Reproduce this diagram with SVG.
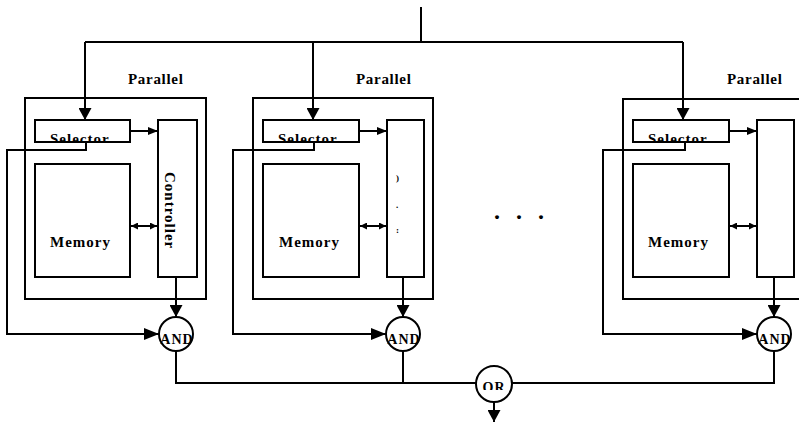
<svg xmlns="http://www.w3.org/2000/svg" width="799" height="424" viewBox="0 0 799 424">
<style>
.box{fill:none;stroke:#000;stroke-width:2}
.wbox{fill:#fff;stroke:#000;stroke-width:2}
.ln{fill:none;stroke:#000;stroke-width:2}
.t{font-family:"Liberation Serif","Times New Roman",serif;font-weight:bold;fill:#000}
.par{font-size:15px;letter-spacing:0.7px}
.mem{font-size:15px;letter-spacing:1px}
.sel{font-size:15px;letter-spacing:1px}
.gate{font-size:14px;letter-spacing:1px}
</style>
<defs>
<marker id="big" markerUnits="userSpaceOnUse" markerWidth="13" markerHeight="13" refX="12" refY="6.5" orient="auto"><path d="M0,0 L12,6.5 L0,13 z" fill="#000"/></marker>
<marker id="med" markerUnits="userSpaceOnUse" markerWidth="15" markerHeight="12" refX="15" refY="6" orient="auto"><path d="M0,0 L15,6 L0,12 z" fill="#000"/></marker>
<marker id="sm" markerUnits="userSpaceOnUse" markerWidth="10" markerHeight="8" refX="10" refY="4" orient="auto"><path d="M0,0 L10,4 L0,8 z" fill="#000"/></marker>
<marker id="tiny" markerUnits="userSpaceOnUse" markerWidth="7" markerHeight="7" refX="7" refY="3.5" orient="auto-start-reverse"><path d="M0,0 L7,3.5 L0,7 z" fill="#000"/></marker>
<clipPath id="c1"><rect x="35" y="120" width="95" height="22"/></clipPath>
<clipPath id="c2"><rect x="263" y="120" width="96" height="22"/></clipPath>
<clipPath id="c3"><rect x="633" y="120" width="96" height="22"/></clipPath>
<clipPath id="cor"><rect x="470" y="360" width="50" height="30"/></clipPath>
</defs>

<g id="connectors">
<line class="ln" x1="421" y1="7" x2="421" y2="42"/>
<line class="ln" x1="85" y1="42" x2="683" y2="42"/>
<line class="ln" x1="85" y1="42" x2="85" y2="120" marker-end="url(#big)"/>
<line class="ln" x1="313" y1="42" x2="313" y2="120" marker-end="url(#big)"/>
<line class="ln" x1="683" y1="42" x2="683" y2="120" marker-end="url(#big)"/>
<line class="ln" x1="130" y1="131" x2="158" y2="131" marker-end="url(#sm)"/>
<line class="ln" x1="359" y1="131" x2="387" y2="131" marker-end="url(#sm)"/>
<line class="ln" x1="729" y1="131" x2="757" y2="131" marker-end="url(#sm)"/>
<line class="ln" x1="131" y1="226" x2="157" y2="226" marker-start="url(#tiny)" marker-end="url(#tiny)"/>
<line class="ln" x1="360" y1="226" x2="386" y2="226" marker-start="url(#tiny)" marker-end="url(#tiny)"/>
<line class="ln" x1="730" y1="226" x2="756" y2="226" marker-start="url(#tiny)" marker-end="url(#tiny)"/>
<polyline class="ln" points="86,142 86,150 7,150 7,334 159,334" marker-end="url(#med)"/>
<polyline class="ln" points="314,142 314,150 233,150 233,334 386,334" marker-end="url(#med)"/>
<polyline class="ln" points="685,142 685,150 603,150 603,334 757,334" marker-end="url(#med)"/>
<line class="ln" x1="176" y1="277" x2="176" y2="317" marker-end="url(#big)"/>
<line class="ln" x1="403" y1="277" x2="403" y2="317" marker-end="url(#big)"/>
<line class="ln" x1="774" y1="277" x2="774" y2="317" marker-end="url(#big)"/>
<polyline class="ln" points="176,351 176,383 774,383 774,351"/>
<line class="ln" x1="403" y1="351" x2="403" y2="383"/>
<line class="ln" x1="494" y1="402" x2="494" y2="422" marker-end="url(#big)"/>
</g>

<g id="module1">
<rect class="box" x="25" y="98" width="181" height="201"/>
<text class="t par" x="128" y="84">Parallel</text>
</g>
<g id="selector1">
<rect class="box" x="35" y="120" width="95" height="22"/>
<text class="t sel" x="50" y="144" clip-path="url(#c1)">Selector</text>
</g>
<g id="memory1">
<rect class="box" x="35" y="164" width="95" height="113"/>
<text class="t mem" x="50" y="247">Memory</text>
</g>
<g id="controller1">
<rect class="box" x="158" y="120" width="39" height="157"/>
<text class="t sel" transform="translate(165,172) rotate(90)">Controller</text>
</g>
<g id="and1">
<circle class="wbox" cx="176" cy="334" r="17"/>
<text class="t gate" x="177" y="344" text-anchor="middle">AND</text>
</g>

<g id="module2">
<rect class="box" x="253" y="98" width="180" height="201"/>
<text class="t par" x="356" y="84">Parallel</text>
</g>
<g id="selector2">
<rect class="box" x="263" y="120" width="96" height="22"/>
<text class="t sel" x="278" y="144" clip-path="url(#c2)">Selector</text>
</g>
<g id="memory2">
<rect class="box" x="263" y="164" width="96" height="113"/>
<text class="t mem" x="279" y="247">Memory</text>
</g>
<g id="controller2">
<rect class="box" x="387" y="120" width="37" height="157"/>
<text class="t" font-size="9" x="396" y="181">)</text>
<text class="t" font-size="9" x="396" y="208">.</text>
<text class="t" font-size="9" x="396" y="233">:</text>
</g>
<g id="and2">
<circle class="wbox" cx="403" cy="334" r="17"/>
<text class="t gate" x="404" y="344" text-anchor="middle">AND</text>
</g>

<g id="ellipsis">
<text class="t" font-size="24" x="494 516 538" y="219">...</text>
</g>

<g id="module3">
<rect class="box" x="623" y="99" width="200" height="200"/>
<text class="t par" x="727" y="84">Parallel</text>
</g>
<g id="selector3">
<rect class="box" x="633" y="120" width="96" height="22"/>
<text class="t sel" x="648" y="144" clip-path="url(#c3)">Selector</text>
</g>
<g id="memory3">
<rect class="box" x="633" y="164" width="96" height="113"/>
<text class="t mem" x="648" y="247">Memory</text>
</g>
<g id="controller3">
<rect class="box" x="757" y="120" width="37" height="157"/>
</g>
<g id="and3">
<circle class="wbox" cx="774" cy="334" r="17"/>
<text class="t gate" x="775" y="344" text-anchor="middle">AND</text>
</g>

<g id="or">
<circle class="wbox" cx="494" cy="384" r="18"/>
<text class="t gate" x="494" y="392" text-anchor="middle" clip-path="url(#cor)">OR</text>
</g>
</svg>
